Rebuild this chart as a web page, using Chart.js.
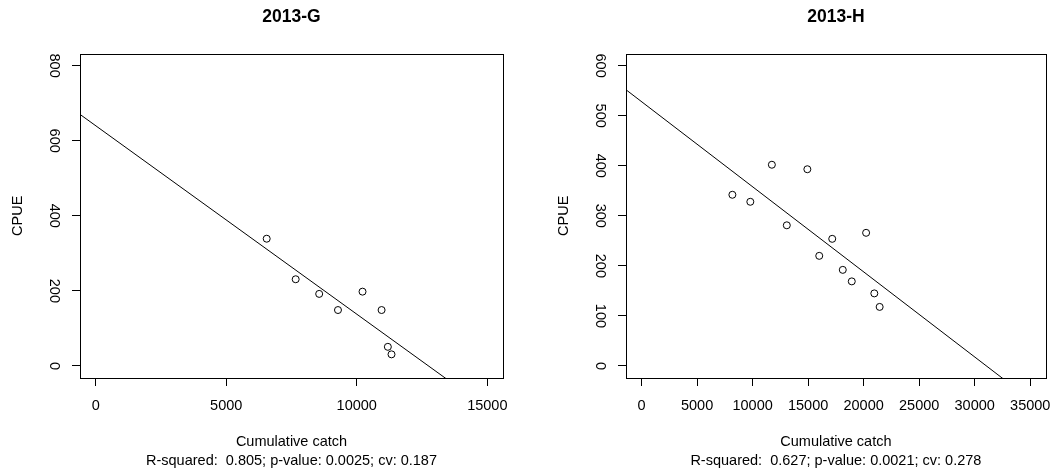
<!DOCTYPE html>
<html>
<head>
<meta charset="utf-8">
<script src="https://cdn.jsdelivr.net/npm/chart.js@4/dist/chart.umd.min.js"></script>
<style>
  body { margin: 0; background: #fff; }
  .panel { position: absolute; top: 0; width: 531px; height: 472px; }
</style>
</head>
<body>
<div class="panel" style="left:0"><canvas id="chartG" width="531" height="472"></canvas></div>
<div class="panel" style="left:531px"><canvas id="chartH" width="531" height="472"></canvas></div>
<script>
// 2013-G
const catchG = [6550, 7660, 8560, 9280, 10220, 10950, 11190, 11330];
const cpueG = [339, 231, 192, 149, 198, 149, 51, 31];
const fitG = [640, -0.0502]; // intercept, slope
const xTicksG = [0, 5000, 10000, 15000];
const yTicksG = [0, 200, 400, 600, 800];
const statsG = 'R-squared:  0.805; p-value: 0.0025; cv: 0.187';

// 2013-H
const catchH = [8180, 9795, 11735, 13080, 14930, 16000, 17170, 18120, 18930, 20220, 20960, 21440];
const cpueH = [342, 328, 402, 281, 393, 220, 254, 192, 169, 266, 145, 118];
const fitH = [528, -0.017];
const xTicksH = [0, 5000, 10000, 15000, 20000, 25000, 30000, 35000];
const yTicksH = [0, 100, 200, 300, 400, 500, 600];
const statsH = 'R-squared:  0.627; p-value: 0.0021; cv: 0.278';

const FONT = "'Liberation Sans', Arial, sans-serif";

const boxPlugin = {
    id: 'box',
    afterDraw(chart) {
        const a = chart.chartArea;
        const c = chart.ctx;
        c.save();
        c.strokeStyle = '#000';
        c.lineWidth = 1;
        c.strokeRect(Math.round(a.left) + 0.5, Math.round(a.top) + 0.5,
            Math.round(a.right - a.left), Math.round(a.bottom - a.top));
        c.restore();
    }
};

// R style axis limits: 4% beyond the tick range
function ext(ticks) {
    const lo = ticks[0], hi = ticks[ticks.length - 1];
    const pad = (hi - lo) * 0.04;
    return [lo - pad, hi + pad];
}

function makePanel(id, title, xs, ys, fit, xTicks, yTicks, stats, padLeft, padRight) {
    const [xMin, xMax] = ext(xTicks);
    const [yMin, yMax] = ext(yTicks);
    const ctx = document.getElementById(id).getContext('2d');
    new Chart(ctx, {
        type: 'scatter',
        data: {
            datasets: [
                {
                    data: xs.map((x, i) => ({ x: x, y: ys[i] })),
                    showLine: false,
                    pointRadius: 3.5,
                    pointBorderWidth: 1,
                    pointBorderColor: '#000',
                    pointBackgroundColor: 'rgba(0,0,0,0)'
                },
                {
                    data: [
                        { x: xMin, y: fit[0] + fit[1] * xMin },
                        { x: xMax, y: fit[0] + fit[1] * xMax }
                    ],
                    showLine: true,
                    borderColor: '#000',
                    borderWidth: 1,
                    pointRadius: 0
                }
            ]
        },
        options: {
            responsive: false,
            animation: false,
            layout: { padding: { left: padLeft, right: padRight, top: 0, bottom: 0 } },
            plugins: {
                legend: { display: false },
                tooltip: { enabled: false },
                title: {
                    display: true,
                    text: title,
                    fullSize: false,
                    color: '#000',
                    font: { family: FONT, size: 17.5, weight: 'bold' },
                    padding: { top: 7, bottom: 25.6 }
                }
            },
            scales: {
                x: {
                    type: 'linear',
                    min: xMin,
                    max: xMax,
                    afterBuildTicks: s => { s.ticks = xTicks.map(v => ({ value: v })); },
                    afterFit: s => { s.height = 94; },
                    grid: { drawOnChartArea: false, drawTicks: true, tickLength: 8, color: '#000' },
                    border: { display: false },
                    ticks: {
                        color: '#000',
                        font: { family: FONT, size: 14.5 },
                        padding: 11,
                        maxRotation: 0,
                        autoSkip: false,
                        callback: v => String(v)
                    },
                    title: {
                        display: true,
                        text: ['Cumulative catch', stats],
                        color: '#000',
                        font: { family: FONT, size: 14.5, lineHeight: 1.31 },
                        padding: { top: 0, bottom: 1.5 }
                    }
                },
                y: {
                    type: 'linear',
                    position: 'left',
                    min: yMin,
                    max: yMax,
                    afterBuildTicks: s => { s.ticks = yTicks.map(v => ({ value: v })); },
                    afterFit: s => { s.width = 80; },
                    grid: { drawOnChartArea: false, drawTicks: true, tickLength: 8, color: '#000' },
                    border: { display: false },
                    ticks: {
                        color: '#000',
                        font: { family: FONT, size: 14.5 },
                        padding: 6,
                        minRotation: -90,
                        maxRotation: -90,
                        crossAlign: 'center',
                        autoSkip: false,
                        callback: v => String(v)
                    },
                    title: {
                        display: true,
                        text: 'CPUE',
                        color: '#000',
                        font: { family: FONT, size: 14.5 },
                        padding: { top: 9.3, bottom: 0 }
                    }
                }
            }
        },
        plugins: [boxPlugin]
    });
}

makePanel('chartG', '2013-G', catchG, cpueG, fitG, xTicksG, yTicksG, statsG, 0, 28);
makePanel('chartH', '2013-H', catchH, cpueH, fitH, xTicksH, yTicksH, statsH, 15, 14);
</script>
</body>
</html>
